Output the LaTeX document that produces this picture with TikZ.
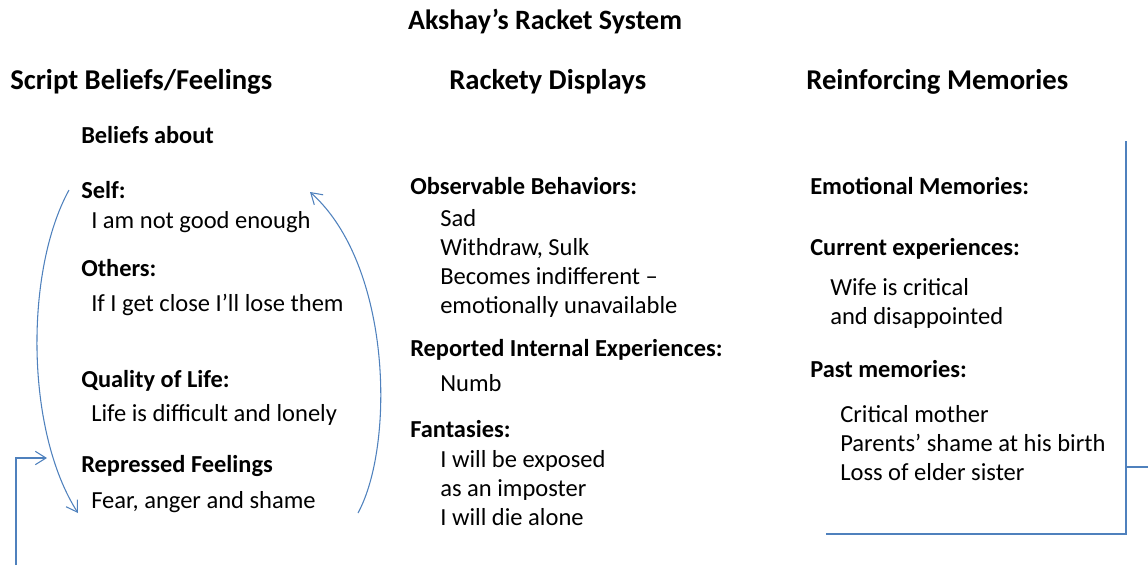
\documentclass[tikz,border=0pt]{standalone}
\usepackage{fontspec}
\setmainfont{Carlito}
\usetikzlibrary{positioning,arrows.meta}
\definecolor{racket}{RGB}{79,129,189}

\begin{document}
\begin{tikzpicture}[
  x=0.75pt, y=-0.75pt,
  ttl/.style={font=\fontsize{21}{25}\selectfont\bfseries, inner sep=0pt, anchor=base},
  head/.style={font=\fontsize{21.5}{25}\selectfont\bfseries, inner sep=0pt, anchor=base west},
  sub/.style={font=\fontsize{18.3}{21.75}\selectfont\bfseries, inner sep=0pt, anchor=base west},
  item/.style={font=\fontsize{18.4}{21.75}\selectfont, inner sep=0pt, anchor=base west, align=left},
  ln/.style={draw=racket, line width=0.8pt},
  ar/.style={ln, -{Straight Barb[length=8pt, width=10pt]}},
]
\useasboundingbox (0,0) rectangle (1148,565);

\node[ttl] (title) at (545, 29) {Akshay’s Racket System};

\node[head] (hScript)  at (10, 89)  {Script Beliefs/Feelings};
\node[head] (hDisplay) at (449, 89) {Rackety Displays};
\node[head] (hMemory)  at (806, 89) {Reinforcing Memories};

% script beliefs
\node[sub]  (beliefs)   at (81, 143) {Beliefs about};
\node[sub]  (self)      at (81, 198) {Self:};
\node[item] (selfTxt)   at (91, 228) {I am not good enough};
\node[sub]  (others)    at (81, 276) {Others:};
\node[item] (othersTxt) at (91, 311) {If I get close I’ll lose them};
\node[sub]  (life)      at (81, 387) {Quality of Life:};
\node[item] (lifeTxt)   at (91, 421) {Life is difficult and lonely};
\node[sub]  (repr)      at (81, 472) {Repressed Feelings};
\node[item] (reprTxt)   at (91, 508) {Fear, anger and shame};

% rackety displays (multi-line items sit on their last baseline)
\node[sub]  (obs)     at (410, 194) {Observable Behaviors:};
\node[item] (obsTxt)  at (440, 313) {Sad\\Withdraw, Sulk\\Becomes indifferent –\\emotionally unavailable};
\node[sub]  (rep)     at (410, 356) {Reported Internal Experiences:};
\node[item] (repTxt)  at (440, 391) {Numb};
\node[sub]  (fant)    at (410, 437) {Fantasies:};
\node[item] (fantTxt) at (440, 525) {I will be exposed\\as an imposter\\I will die alone};

% reinforcing memories
\node[sub]  (emo)     at (810, 194) {Emotional Memories:};
\node[sub]  (cur)     at (810, 255) {Current experiences:};
\node[item] (curTxt)  at (830, 324) {Wife is critical\\and disappointed};
\node[sub]  (past)    at (810, 377) {Past memories:};
\node[item] (pastTxt) at (840, 480) {Critical mother\\Parents’ shame at his birth\\Loss of elder sister};

% loop and feedback
\coordinate (loopTop)  at (69, 190);
\coordinate (loopBot)  at (78, 513);
\coordinate (backBot)  at (358, 513);
\coordinate (backTop)  at (310, 192);
\coordinate (fbStart)  at (16, 565);
\coordinate (fbEnd)    at (47, 458);
\coordinate (brTop)    at (1126, 141);
\coordinate (brCorner) at (1126, 534);
\coordinate (brLeft)   at (826, 534);
\coordinate (brOut)    at (1148, 467);

\draw[ar] (loopTop) .. controls (25, 270) and (25, 430) .. (loopBot);
\draw[ar] (backBot) .. controls (395, 445) and (392, 265) .. (backTop);
\draw[ar] (fbStart) |- (fbEnd);
\draw[ln] (brTop) -- (brCorner) -- (brLeft);
\draw[ln] (brCorner |- brOut) -- (brOut);

\end{tikzpicture}
\end{document}
